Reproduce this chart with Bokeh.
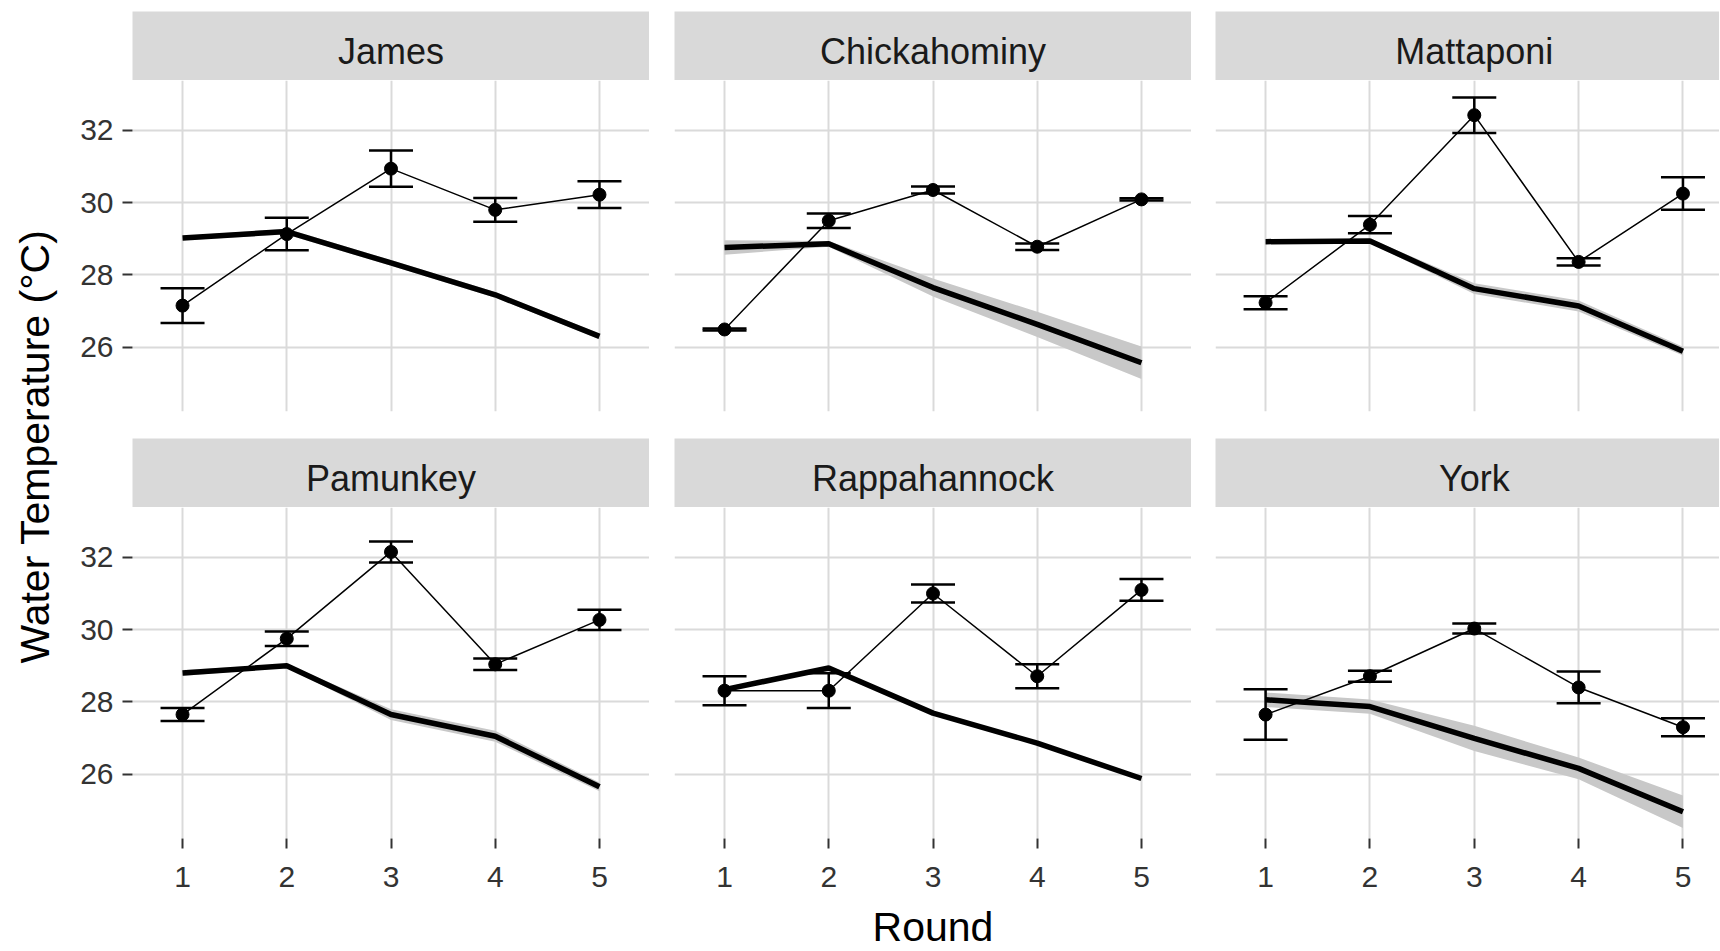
from math import pi
from bokeh.plotting import figure
from bokeh.layouts import row, column, Spacer
from bokeh.models import (Range1d, FixedTicker, Grid, LinearAxis, Whisker,
                          TeeHead, ColumnDataSource)
from bokeh.core.properties import value
from bokeh.embed import file_html
from bokeh.resources import INLINE

# ---------------- data ----------------
rivers = ["James", "Chickahominy", "Mattaponi", "Pamunkey", "Rappahannock", "York"]
rounds = [1, 2, 3, 4, 5]
y_ticks = [26, 28, 30, 32]

# observed mean water temperature and standard error per round
james_mean = [27.15, 29.13, 30.94, 29.80, 30.22]
james_se = [0.48, 0.45, 0.50, 0.33, 0.37]
chick_mean = [26.49, 29.50, 30.35, 28.78, 30.09]
chick_se = [0.03, 0.20, 0.10, 0.09, 0.03]
matta_mean = [27.23, 29.39, 32.42, 28.36, 30.25]
matta_se = [0.18, 0.24, 0.49, 0.10, 0.45]
pamun_mean = [27.65, 29.75, 32.15, 29.04, 30.27]
pamun_se = [0.18, 0.20, 0.29, 0.16, 0.28]
rappa_mean = [28.31, 28.31, 31.00, 28.71, 31.10]
rappa_se = [0.40, 0.48, 0.25, 0.33, 0.30]
york_mean = [27.65, 28.71, 30.03, 28.40, 27.30]
york_se = [0.70, 0.15, 0.14, 0.44, 0.25]

# modelled temperature (thick line) and its band half-width
james_model = [29.02, 29.20, 28.33, 27.45, 26.30]
james_model_se = [0.06, 0.08, 0.08, 0.08, 0.08]
chick_model = [28.76, 28.86, 27.65, 26.63, 25.57]
chick_model_se = [0.20, 0.08, 0.25, 0.35, 0.45]
matta_model = [28.92, 28.94, 27.62, 27.14, 25.89]
matta_model_se = [0.05, 0.06, 0.15, 0.15, 0.12]
pamun_model = [28.80, 29.00, 27.65, 27.05, 25.65]
pamun_model_se = [0.08, 0.05, 0.15, 0.15, 0.12]
rappa_model = [28.34, 28.94, 27.69, 26.86, 25.88]
rappa_model_se = [0.04, 0.05, 0.05, 0.05, 0.05]
york_model = [28.06, 27.87, 26.99, 26.16, 24.96]
york_model_se = [0.20, 0.20, 0.35, 0.30, 0.45]

obs_means = [james_mean, chick_mean, matta_mean, pamun_mean, rappa_mean, york_mean]
obs_ses = [james_se, chick_se, matta_se, pamun_se, rappa_se, york_se]
models = [james_model, chick_model, matta_model, pamun_model, rappa_model, york_model]
model_ses = [james_model_se, chick_model_se, matta_model_se, pamun_model_se,
             rappa_model_se, york_model_se]

# ---------------- styling / geometry ----------------
FONT = "Liberation Sans"
GRID = "#DADADA"
STRIP = "#D9D9D9"
RIBBON = "#C8C8C8"
YT_W = 70
LEFT_B = [62, 25, 24]
FW = [517, 517, 504]
STRIP_H = 69
PANEL_H = 331
TOP_B = 11
BOTTOM_B = [27, 66]
X_LO, X_HI, X_HI3 = 0.52, 5.48, 5.35
Y_LO, Y_HI = 24.22, 33.38
ROUND_H = 46
TOTAL_H = TOP_B + STRIP_H + PANEL_H + BOTTOM_B[0] + STRIP_H + PANEL_H + BOTTOM_B[1] + ROUND_H

y_range = Range1d(Y_LO, Y_HI)


def style_axis(ax, standoff):
    ax.axis_line_color = None
    ax.major_tick_line_color = "#333333"
    ax.major_tick_line_width = 2
    ax.major_tick_out = 10
    ax.major_tick_in = 0
    ax.minor_tick_line_color = None
    ax.major_label_text_font = FONT
    ax.major_label_text_font_size = "30px"
    ax.major_label_text_color = "#333333"
    ax.major_label_standoff = standoff


strips, panels, xranges = [], [], []
for i, name in enumerate(rivers):
    col, r = i % 3, i // 3
    xr = Range1d(X_LO, X_HI if col < 2 else X_HI3)
    xranges.append(xr)

    # strip (facet label)
    s = figure(frame_width=FW[col], frame_height=STRIP_H, x_range=xr,
               y_range=Range1d(0, STRIP_H), x_axis_location=None,
               y_axis_location=None, output_backend="svg", toolbar_location=None,
               min_border_left=LEFT_B[col], min_border_right=0,
               min_border_top=TOP_B if r == 0 else 0, min_border_bottom=0,
               background_fill_color=STRIP, border_fill_color="white",
               outline_line_color=None)
    s.center = []
    s.text(x=[3], y=[29], text=[name], text_font=value(FONT),
           text_font_size="36px", text_color="#1A1A1A",
           text_align="center", text_baseline="middle")
    strips.append(s)

    # panel
    p = figure(frame_width=FW[col], frame_height=PANEL_H, x_range=xr,
               y_range=y_range, x_axis_location=None, y_axis_location=None,
               output_backend="svg", toolbar_location=None,
               min_border_left=LEFT_B[col], min_border_right=0,
               min_border_top=0, min_border_bottom=BOTTOM_B[r],
               background_fill_color="white", border_fill_color="white",
               outline_line_color=None)
    p.center = []
    p.add_layout(Grid(dimension=0, ticker=FixedTicker(ticks=rounds),
                      grid_line_color=GRID, grid_line_width=2))
    p.add_layout(Grid(dimension=1, ticker=FixedTicker(ticks=y_ticks),
                      grid_line_color=GRID, grid_line_width=2))
    if col == 0:
        ay = LinearAxis(ticker=FixedTicker(ticks=y_ticks))
        style_axis(ay, 9)
        p.add_layout(ay, "left")
    if r == 1:
        ax = LinearAxis(ticker=FixedTicker(ticks=rounds))
        style_axis(ax, 18)
        p.add_layout(ax, "below")

    mean, se = obs_means[i], obs_ses[i]
    model, mse = models[i], model_ses[i]
    p.varea(x=rounds, y1=[m - e for m, e in zip(model, mse)],
            y2=[m + e for m, e in zip(model, mse)], fill_color=RIBBON)
    p.line(rounds, model, line_width=5.5, line_color="black")
    p.line(rounds, mean, line_width=1.5, line_color="black")
    src = ColumnDataSource(dict(x=rounds,
                                lo=[m - e for m, e in zip(mean, se)],
                                hi=[m + e for m, e in zip(mean, se)]))
    p.add_layout(Whisker(source=src, base="x", lower="lo", upper="hi",
                         line_width=2.5, line_color="black", level="glyph",
                         upper_head=TeeHead(size=44, line_width=2.5, line_color="black"),
                         lower_head=TeeHead(size=44, line_width=2.5, line_color="black")))
    p.scatter(rounds, mean, size=13, color="black")
    panels.append(p)

# y axis title
yt = figure(frame_width=YT_W, frame_height=TOTAL_H, x_range=Range1d(0, YT_W),
            y_range=Range1d(0, TOTAL_H), x_axis_location=None, y_axis_location=None,
            output_backend="svg", toolbar_location=None, min_border=0,
            outline_line_color=None)
yt.center = []
yt.text(x=[34], y=[TOTAL_H - 446], text=["Water Temperature (°C)"], angle=pi / 2,
        text_font=value(FONT), text_font_size="41px", text_color="black",
        text_align="center", text_baseline="middle")

# x axis title
rf = figure(frame_width=FW[1], frame_height=ROUND_H, x_range=xranges[4],
            y_range=Range1d(0, ROUND_H), x_axis_location=None, y_axis_location=None,
            output_backend="svg", toolbar_location=None,
            min_border_left=LEFT_B[1], min_border_right=0, min_border_top=0,
            min_border_bottom=0, outline_line_color=None)
rf.center = []
rf.text(x=[3], y=[24], text=["Round"], text_font=value(FONT),
        text_font_size="41px", text_color="black",
        text_align="center", text_baseline="middle")

grid = column(row(*strips[:3]), row(*panels[:3]),
              row(*strips[3:]), row(*panels[3:]),
              row(Spacer(width=LEFT_B[0] + FW[0], height=ROUND_H), rf))
layout = row(yt, grid)

open("out.html", "w").write(file_html(layout, INLINE))
